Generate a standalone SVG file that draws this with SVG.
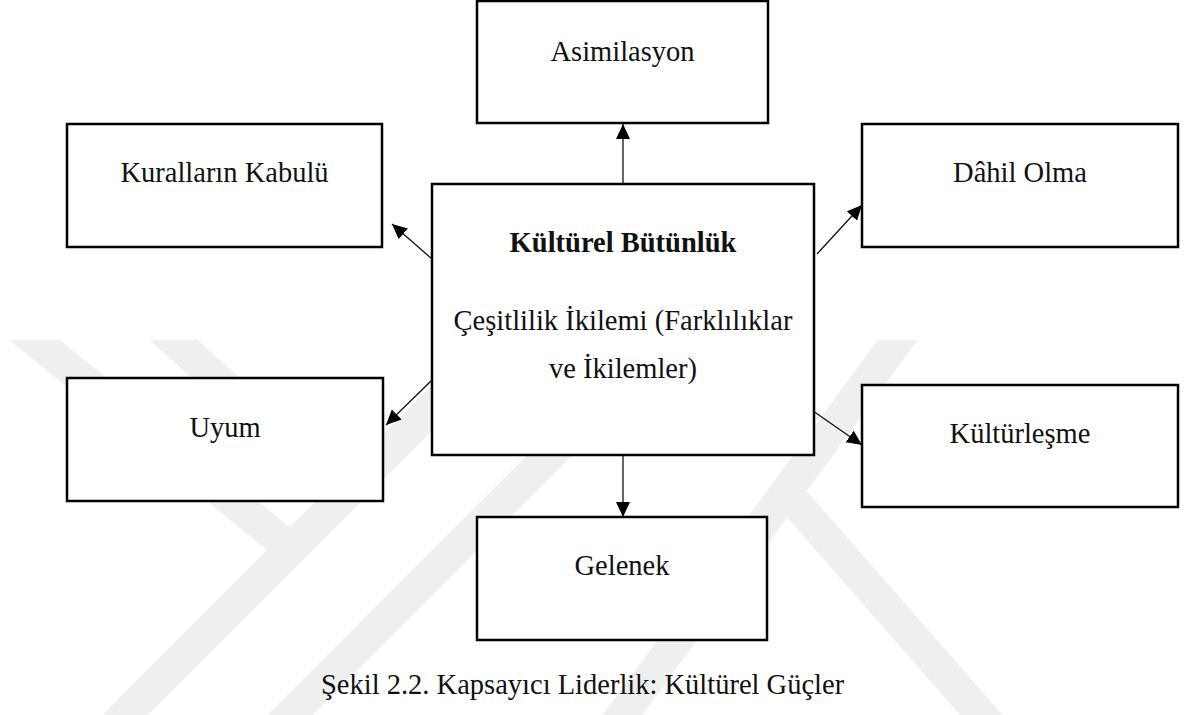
<svg xmlns="http://www.w3.org/2000/svg" width="1187" height="715" viewBox="0 0 1187 715">
<style>
.box{fill:#fff;stroke:#000;stroke-width:2.5}
.lbl{font-family:"Liberation Serif","Times New Roman",serif;font-size:28.5px;fill:#111;text-anchor:middle}
.b{font-weight:bold}
.con{stroke:#111;stroke-width:1.3;fill:none;marker-end:url(#ah)}
.wm{stroke:#efefef;stroke-width:32;fill:none;stroke-linecap:butt}
</style>
<defs>
<marker id="ah" markerUnits="userSpaceOnUse" markerWidth="16" markerHeight="14" refX="15" refY="7" orient="auto">
<path d="M0,0 L15,7 L0,14 z" fill="#000"/>
</marker>
<clipPath id="wmclip"><rect x="0" y="340" width="1187" height="375"/></clipPath>
</defs>
<rect width="1187" height="715" fill="#fff"/>
<g id="watermark" clip-path="url(#wmclip)">
<line class="wm" x1="20" y1="328" x2="290" y2="548"/>
<line class="wm" x1="160" y1="328" x2="352" y2="500"/>
<line class="wm" x1="115" y1="725" x2="510" y2="330"/>
<line class="wm" x1="280" y1="725" x2="675" y2="330"/>
<line class="wm" x1="905" y1="330" x2="615" y2="725"/>
<line class="wm" x1="780" y1="485" x2="990" y2="725"/>
</g>
<g id="n-asimilasyon"><rect class="box" x="477" y="1" width="291" height="122"/><text class="lbl" x="622.5" y="61">Asimilasyon</text></g>
<g id="n-kurallar"><rect class="box" x="67" y="124" width="315" height="123"/><text class="lbl" x="224.5" y="182">Kuralların Kabulü</text></g>
<g id="n-dahil"><rect class="box" x="862" y="124" width="316" height="123"/><text class="lbl" x="1020" y="182">Dâhil Olma</text></g>
<g id="n-merkez"><rect class="box" x="432" y="184" width="382" height="271"/><text class="lbl b" x="623" y="252">Kültürel Bütünlük</text><text class="lbl" x="623" y="330">Çeşitlilik İkilemi (Farklılıklar</text><text class="lbl" x="623" y="378">ve İkilemler)</text></g>
<g id="n-uyum"><rect class="box" x="67" y="378" width="316" height="123"/><text class="lbl" x="225" y="437">Uyum</text></g>
<g id="n-kulturlesme"><rect class="box" x="862" y="385" width="316" height="122"/><text class="lbl" x="1020" y="443">Kültürleşme</text></g>
<g id="n-gelenek"><rect class="box" x="477" y="517" width="290" height="123"/><text class="lbl" x="622" y="575">Gelenek</text></g>
<g id="connectors">
<line class="con" x1="623" y1="184" x2="623" y2="124"/>
<line class="con" x1="432" y1="259" x2="392" y2="224"/>
<line class="con" x1="432" y1="380" x2="386" y2="425"/>
<line class="con" x1="817" y1="254" x2="862" y2="205"/>
<line class="con" x1="813" y1="411" x2="862" y2="445"/>
<line class="con" x1="623" y1="455" x2="623" y2="517"/>
</g>
<text class="lbl" x="321" y="694" style="text-anchor:start">Şekil 2.2. Kapsayıcı Liderlik: Kültürel Güçler</text>
</svg>
